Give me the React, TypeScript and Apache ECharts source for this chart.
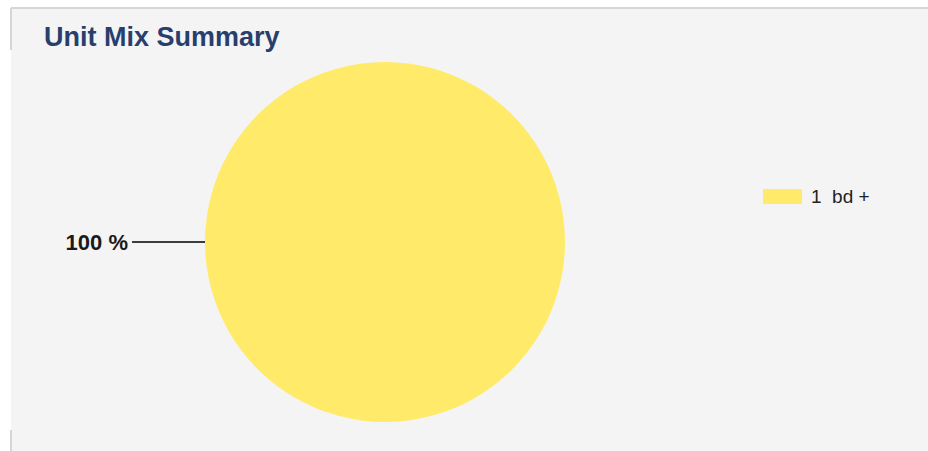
import React, { useEffect, useRef } from "react";
import * as echarts from "echarts";

const categories = ["1  bd +"];
const values = [100];
const labels = ["100 %"];

export default function App() {
  const ref = useRef<HTMLDivElement>(null);
  useEffect(() => {
    if (!ref.current) return;
    const chart = echarts.init(ref.current, undefined, { renderer: "svg" });
    chart.setOption({
      animation: false,
      backgroundColor: "#ffffff",
      graphic: [
        { type: "rect", z: -10, silent: true, shape: { x: 11, y: 8, width: 917, height: 443 }, style: { fill: "#f4f4f4" } },
        { type: "line", z: -5, shape: { x1: 11, y1: 8, x2: 928, y2: 8 }, style: { stroke: "#d6d6d6", lineWidth: 2 } },
        { type: "line", z: -5, shape: { x1: 11, y1: 8, x2: 11, y2: 50 }, style: { stroke: "#d6d6d6", lineWidth: 2 } },
        { type: "line", z: -5, shape: { x1: 11, y1: 430, x2: 11, y2: 451 }, style: { stroke: "#d6d6d6", lineWidth: 2 } },
      ],
      title: {
        text: "Unit Mix Summary",
        left: 39,
        top: 18,
        textStyle: { fontFamily: "Liberation Sans, Arial, sans-serif", fontWeight: "bold", fontSize: 27, color: "#283f6e" },
      },
      legend: {
        orient: "vertical",
        left: 758,
        top: 182,
        itemWidth: 39,
        itemHeight: 15,
        itemGap: 8,
        icon: "rect",
        data: categories,
        textStyle: { fontFamily: "Liberation Sans, Arial, sans-serif", fontSize: 19, color: "#222", padding: [0, 0, 0, 4] },
      },
      series: [
        {
          type: "pie",
          center: [385, 242],
          radius: 180,
          startAngle: 0,
          clockwise: true,
          itemStyle: { color: "#ffeb69" },
          emphasis: { disabled: true },
          label: {
            show: true,
            position: "outside",
            formatter: (p: any) => labels[p.dataIndex],
            fontFamily: "Liberation Sans, Arial, sans-serif",
            fontWeight: "bold",
            fontSize: 22,
            color: "#1a1a1a",
            distanceToLabelLine: 4,
          },
          labelLine: { show: true, length: 1, length2: 72, smooth: false, lineStyle: { color: "#000", width: 1.5 } },
          data: categories.map((c, i) => ({ name: c, value: values[i] })),
        },
      ],
    });
    return () => chart.dispose();
  }, []);
  return <div ref={ref} style={{ position: "fixed", left: 0, top: 0, width: 928, height: 451 }} />;
}
